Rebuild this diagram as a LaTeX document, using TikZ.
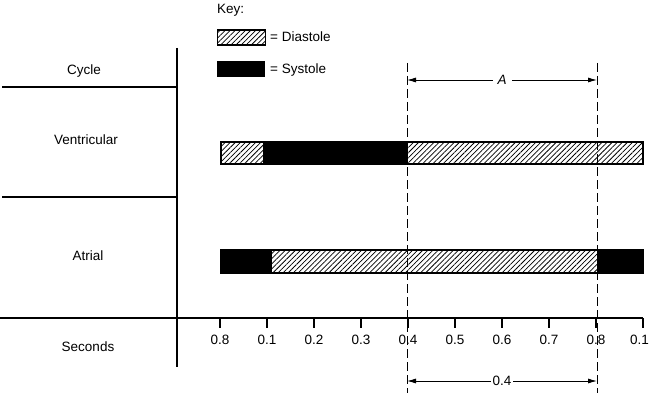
\documentclass[tikz,border=0pt]{standalone}
\usepackage{fontspec}
\setmainfont{Liberation Sans}
\usetikzlibrary{patterns.meta,arrows.meta}
\tikzset{
  hatch/.style={pattern={Lines[angle=45,distance=3.6pt,line width=0.75pt]}},
  barline/.style={draw=black,line width=1.1pt},
  rule/.style={line width=1.9pt},
  guide/.style={line width=0.8pt,dash pattern=on 9pt off 4pt},
  dim/.style={line width=0.8pt,{Latex[length=9pt,width=5pt]}-{Latex[length=9pt,width=5pt]}},
  lbl/.style={font=\fontsize{13.5}{15}\selectfont,inner sep=1pt},
  tick/.style={line width=1.3pt}
}
\begin{document}
\begin{tikzpicture}[x=1pt,y=-1pt]
\useasboundingbox (0,0) rectangle (650,393);
% key
\node[lbl,anchor=west] (key) at (216,10) {Key:};
\draw[hatch] (217,30) rectangle (265,45);
\draw[line width=1pt] (217,30) rectangle (265,45);
\node[lbl,anchor=west] (kd) at (269,37) {= Diastole};
\fill[black] (217,61) rectangle (265,77);
\node[lbl,anchor=west] (ks) at (269,70) {= Systole};
% left table
\coordinate (vtop) at (177,48);
\coordinate (vbot) at (177,367);
\draw[rule] (vtop) -- (vbot);
\coordinate (c0) at (2,87); \coordinate (c1) at (177,87);
\draw[rule] (c0) -- (c1);
\coordinate (d0) at (2,197); \coordinate (d1) at (177,197);
\draw[rule] (d0) -- (d1);
\coordinate (a0) at (0,318); \coordinate (a1) at (643,318);
\draw[line width=1.4pt] (a0) -- (a1);
\node[lbl] (cyc) at (84,71) {Cycle};
\node[lbl] (ven) at (86,140) {Ventricular};
\node[lbl] (atr) at (88,256) {Atrial};
\node[lbl] (sec) at (88,347) {Seconds};
% ventricular bar
\draw[hatch] (221,142) rectangle (263,164);
\fill[black] (263,142) rectangle (407,164);
\draw[hatch] (407,142) rectangle (643,164);
\draw[barline] (221,142) rectangle (643,164);
% atrial bar
\fill[black] (221,250) rectangle (271,273);
\draw[hatch] (271,250) rectangle (597,273);
\fill[black] (597,250) rectangle (643,273);
\draw[barline] (221,250) rectangle (643,273);
% ticks and labels
\foreach \i/\t in {0/0.8,1/0.1,2/0.2,3/0.3,4/0.4,5/0.5,6/0.6,7/0.7,8/0.8}{
  \draw[tick] ({220+47*\i},318) -- ({220+47*\i},328);
  \node[lbl] (t\i) at ({220+47*\i},340) {\t};
}
\draw[tick] (643,318) -- (643,328);
\node[lbl,anchor=east] (t9) at (650,340) {0.1};
% dashed guides
\coordinate (g1t) at (407,63); \coordinate (g1b) at (407,393);
\coordinate (g2t) at (597,63); \coordinate (g2b) at (597,393);
\draw[guide] (g1t) -- (g1b);
\draw[guide] (g2t) -- (g2b);
% dimension arrows
\coordinate (aL) at (407,80); \coordinate (aR) at (597,80);
\draw[dim] (aL) -- node[lbl,fill=white,inner xsep=5pt,font=\fontsize{13.5}{15}\selectfont\itshape] (A) {A} (aR);
\coordinate (bL) at (407,381); \coordinate (bR) at (597,381);
\draw[dim] (bL) -- node[lbl,fill=white,inner xsep=2pt] (B) {0.4} (bR);
\end{tikzpicture}
\end{document}
